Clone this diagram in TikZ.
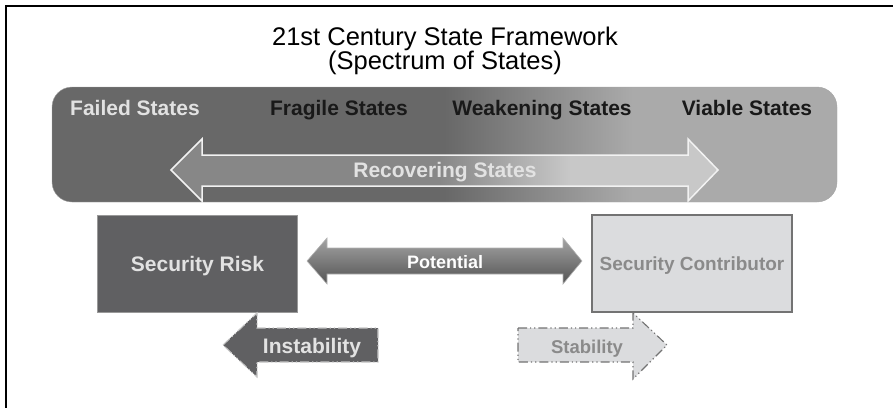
\documentclass[tikz,border=0pt]{standalone}
\usepackage{fontspec}
\setmainfont{Liberation Sans}
\usepackage{tikz}

\definecolor{bgdark}{HTML}{686868}
\definecolor{bglight}{HTML}{AAAAAA}
\definecolor{arrdark}{HTML}{878787}
\definecolor{arrlight}{HTML}{C8C8C8}
\definecolor{potlight}{HTML}{A4A4A4}
\definecolor{potmid}{HTML}{6C6C6C}
\definecolor{potdark}{HTML}{535353}
\definecolor{riskgray}{HTML}{606062}
\definecolor{contribgray}{HTML}{DBDCDE}
\definecolor{textlight}{HTML}{E2E2E2}
\definecolor{textdark}{HTML}{8A8A8A}
\pgfdeclarehorizontalshading{spectrumshade}{100bp}{color(0bp)=(bgdark); color(50bp)=(bgdark); color(62bp)=(bglight); color(100bp)=(bglight)}
\pgfdeclarehorizontalshading{recovershade}{100bp}{color(0bp)=(arrdark); color(49.5bp)=(arrdark); color(61.5bp)=(arrlight); color(100bp)=(arrlight)}

\begin{document}
\begin{tikzpicture}[x=1pt,y=-1pt,
    lab/.style={font=\fontsize{21}{21}\selectfont\bfseries, anchor=base, inner sep=0pt},
    box/.style={minimum width=200pt, minimum height=97pt, inner sep=0pt, outer sep=0pt, text depth=0pt},
    dashdot/.style={line width=1.1pt, dash pattern=on 9pt off 3pt on 1.2pt off 3pt on 1.2pt off 3pt}]
  \useasboundingbox (0,0) rectangle (893,407);
  \draw[line width=2.2pt] (6,420) -- (6,6) -- (900,6);

  \node[anchor=base, font=\fontsize{25.5}{25.5}\selectfont] (title) at (445,45) {21st Century State Framework};
  \node[anchor=base, font=\fontsize{25.5}{25.5}\selectfont] (subtitle) at (445,69) {(Spectrum of States)};

  \node[shade, shading=spectrumshade, draw=gray!70, rounded corners=20pt, minimum width=785pt,
    minimum height=115pt, inner sep=0pt] (spectrum) at (444.5,144.5) {};
  \foreach \x/\name/\txt/\col in {135/failed/Failed States/textlight, 339/fragile/Fragile States/black!90,
      542/weakening/Weakening States/black!90, 747/viable/Viable States/black!90}
    \node[lab, text=\col] (\name) at (\x,115) {\txt};

  \shade[shading=recovershade, draw=white!90!gray, line width=1.5pt]
    (171,170) -- (202,139) -- (202,155) -- (688,155) -- (688,139) -- (718,170)
    -- (688,201) -- (688,186) -- (202,186) -- (202,201) -- cycle;
  \node[lab, text=textlight] (recovering) at (445,177) {Recovering States};

  \node[box, fill=riskgray, draw=gray!80, text=textlight, font=\fontsize{21}{21}\selectfont\bfseries]
    (risk) at (197.5,263.5) {Security Risk};
  \node[box, fill=contribgray, draw=gray!110, line width=1.5pt, text=textdark, font=\fontsize{19}{19}\selectfont\bfseries]
    (contrib) at (692,263.5) {Security Contributor};

  \shade[top color=potlight, middle color=potmid, bottom color=potdark, draw=gray!60, line width=0.6pt]
    (307,261) -- (327,238) -- (327,248) -- (563,248) -- (563,238) -- (582,261)
    -- (563,284) -- (563,274) -- (327,274) -- (327,284) -- cycle;
  \node[lab, text=white, font=\fontsize{18}{18}\selectfont\bfseries] (potential) at (445,268) {Potential};

  \filldraw[fill=riskgray, draw=gray!45, dashdot]
    (223,345) -- (257,313) -- (257,328) -- (378,328) -- (378,362) -- (257,362) -- (257,377) -- cycle;
  \node[lab, text=textlight] (instability) at (312,353) {Instability};
  \filldraw[fill=contribgray, draw=gray!110, dashdot]
    (518,328) -- (633,328) -- (633,313) -- (667,345) -- (633,379) -- (633,362) -- (518,362) -- cycle;
  \node[lab, text=textdark, font=\fontsize{18.5}{18.5}\selectfont\bfseries] (stability) at (587,353) {Stability};
\end{tikzpicture}
\end{document}
